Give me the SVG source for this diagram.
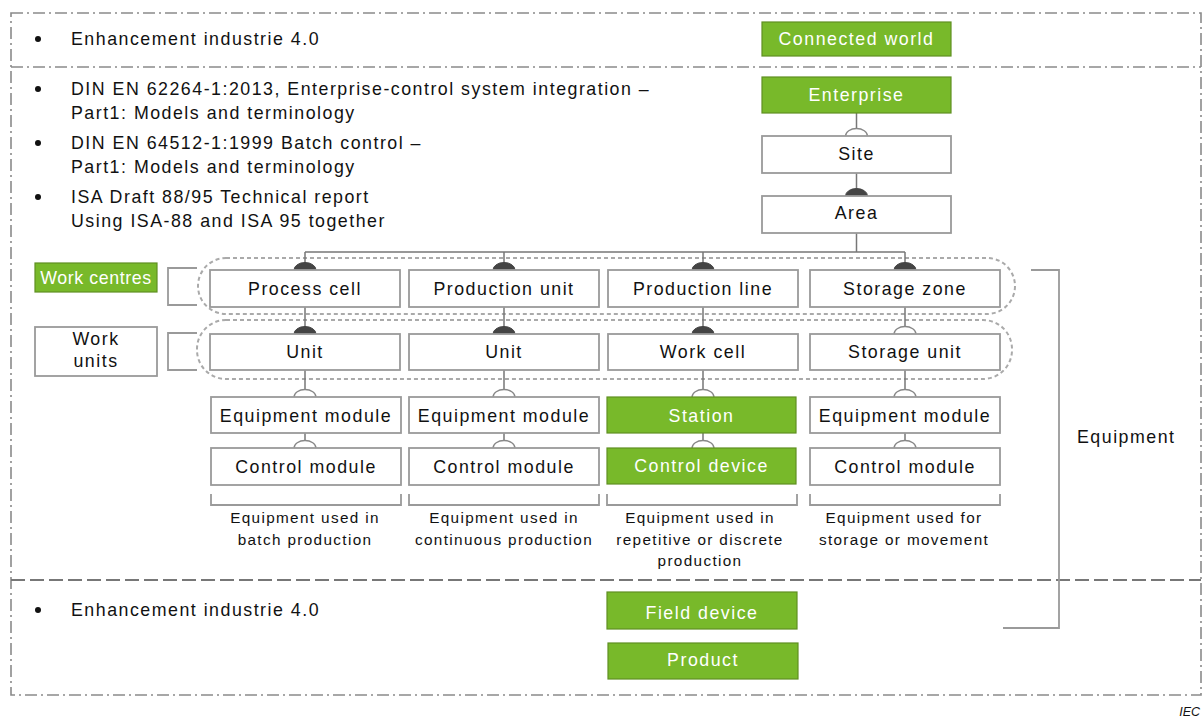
<svg xmlns="http://www.w3.org/2000/svg" width="1203" height="720" viewBox="0 0 1203 720">
<style>
text{font-family:"Liberation Sans",Arial,sans-serif;fill:#111}
.t{font-size:17.8px;letter-spacing:1.5px}
.c{text-anchor:middle}
.s{font-size:15.3px;letter-spacing:1.35px;text-anchor:middle}
.w{fill:#fff}
.bx{fill:#fff;stroke:#9a9a9a;stroke-width:1.8}
.gr{fill:#78b92a;stroke:#5f8f22;stroke-width:1.2}
.ln{fill:none;stroke:#777;stroke-width:1.5}
.br{fill:none;stroke:#9a9a9a;stroke-width:1.8}
.dd{fill:none;stroke:#8a8a8a;stroke-width:1.6;stroke-dasharray:12 4 2 4}
.da{fill:none;stroke:#777;stroke-width:1.8;stroke-dasharray:14 5}
.grp{fill:none;stroke:#aaa;stroke-width:2;stroke-dasharray:4 3}
.f{fill:#444;stroke:#444;stroke-width:1}
.o{fill:#fff;stroke:#888;stroke-width:1.3}
</style>
<defs>
<path id="hf" class="f" d="M-11 0 A11 7.5 0 0 1 11 0 Z"/>
<path id="ho" class="o" d="M-11 0 A11 7.5 0 0 1 11 0"/>
</defs>

<g id="frame">
<path class="dd" d="M11 13 H1201 V695 H11 Z"/>
<path class="dd" d="M11 67 H1201"/>
<path class="da" d="M11 580 H1201"/>
</g>

<g id="notes">
<circle cx="38" cy="39" r="3" fill="#111"/>
<text class="t" x="71" y="45">Enhancement industrie 4.0</text>
<circle cx="38" cy="89" r="3" fill="#111"/>
<text class="t" x="71" y="95">DIN EN 62264-1:2013, Enterprise-control system integration –</text>
<text class="t" x="71" y="119">Part1: Models and terminology</text>
<circle cx="38" cy="143" r="3" fill="#111"/>
<text class="t" x="71" y="149">DIN EN 64512-1:1999 Batch control –</text>
<text class="t" x="71" y="173">Part1: Models and terminology</text>
<circle cx="38" cy="197" r="3" fill="#111"/>
<text class="t" x="71" y="203">ISA Draft 88/95 Technical report</text>
<text class="t" x="71" y="227">Using ISA-88 and ISA 95 together</text>
<circle cx="38" cy="610" r="3" fill="#111"/>
<text class="t" x="71" y="616">Enhancement industrie 4.0</text>
</g>

<g id="groups">
<rect class="grp" x="198" y="258" width="817" height="56" rx="28"/>
<rect class="grp" x="197" y="320" width="815" height="59" rx="29"/>
</g>

<g id="connectors">
<path class="ln" d="M856.5 113 V136 M856.5 173 V196 M856.5 233 V252 M305 252 H905 M305 252 V270 M504 252 V270 M703 252 V270 M905 252 V270"/>
<path class="ln" d="M305 307 V334 M504 307 V334 M703 307 V334 M905 307 V334"/>
<path class="ln" d="M305 370 V397 M504 370 V397 M703 370 V397 M905 370 V397"/>
<path class="ln" d="M305 433 V448 M504 433 V448 M703 433 V448 M905 433 V448"/>
<use href="#ho" x="856.5" y="136"/>
<use href="#hf" x="856.5" y="196"/>
<use href="#hf" x="305" y="270"/>
<use href="#hf" x="504" y="270"/>
<use href="#hf" x="703" y="270"/>
<use href="#hf" x="905" y="270"/>
<use href="#hf" x="305" y="334"/>
<use href="#hf" x="504" y="334"/>
<use href="#hf" x="703" y="334"/>
<use href="#ho" x="905" y="334"/>
<use href="#ho" x="305" y="397"/>
<use href="#ho" x="504" y="397"/>
<use href="#ho" x="703" y="397"/>
<use href="#ho" x="905" y="397"/>
<use href="#ho" x="305" y="448"/>
<use href="#ho" x="504" y="448"/>
<use href="#ho" x="703" y="448"/>
<use href="#ho" x="905" y="448"/>
</g>

<g id="brackets">
<path class="br" d="M197 268 H168 V305 H197"/>
<path class="br" d="M197 333 H168 V370 H197"/>
<path class="br" d="M211 494 V505 H401 V494"/>
<path class="br" d="M409 494 V505 H599 V494"/>
<path class="br" d="M607 494 V505 H797 V494"/>
<path class="br" d="M810 494 V505 H1000 V494"/>
<path class="br" d="M1031 270 H1059 V628 H1003"/>
</g>

<g id="n-connected"><rect class="gr" x="762" y="22" width="189" height="34"/><text class="t c w" x="856.5" y="45">Connected world</text></g>
<g id="n-enterprise"><rect class="gr" x="762" y="77" width="189" height="36"/><text class="t c w" x="856.5" y="101">Enterprise</text></g>
<g id="n-site"><rect class="bx" x="762" y="136" width="189" height="37"/><text class="t c" x="856.5" y="160">Site</text></g>
<g id="n-area"><rect class="bx" x="762" y="196" width="189" height="37"/><text class="t c" x="856.5" y="219">Area</text></g>

<g id="n-workcentres"><rect class="gr" x="35" y="263" width="122" height="29"/><text class="t c w" x="96" y="284" style="letter-spacing:0.6px">Work centres</text></g>
<g id="n-workunits"><rect class="bx" x="35" y="327" width="122" height="49"/><text class="t c" x="96" y="345">Work</text><text class="t c" x="96" y="367">units</text></g>

<g id="n-processcell"><rect class="bx" x="210" y="270" width="190" height="37"/><text class="t c" x="305" y="295">Process cell</text></g>
<g id="n-productionunit"><rect class="bx" x="409" y="270" width="190" height="37"/><text class="t c" x="504" y="295">Production unit</text></g>
<g id="n-productionline"><rect class="bx" x="608" y="270" width="190" height="37"/><text class="t c" x="703" y="295">Production line</text></g>
<g id="n-storagezone"><rect class="bx" x="810" y="270" width="190" height="37"/><text class="t c" x="905" y="295">Storage zone</text></g>

<g id="n-unit1"><rect class="bx" x="210" y="334" width="190" height="36"/><text class="t c" x="305" y="358">Unit</text></g>
<g id="n-unit2"><rect class="bx" x="409" y="334" width="190" height="36"/><text class="t c" x="504" y="358">Unit</text></g>
<g id="n-workcell"><rect class="bx" x="608" y="334" width="190" height="36"/><text class="t c" x="703" y="358">Work cell</text></g>
<g id="n-storageunit"><rect class="bx" x="810" y="334" width="190" height="36"/><text class="t c" x="905" y="358">Storage unit</text></g>

<g id="n-em1"><rect class="bx" x="211" y="397" width="190" height="36"/><text class="t c" x="306" y="422">Equipment module</text></g>
<g id="n-em2"><rect class="bx" x="409" y="397" width="190" height="36"/><text class="t c" x="504" y="422">Equipment module</text></g>
<g id="n-station"><rect class="gr" x="607" y="397" width="189" height="36"/><text class="t c w" x="701.5" y="422">Station</text></g>
<g id="n-em4"><rect class="bx" x="810" y="397" width="190" height="36"/><text class="t c" x="905" y="422">Equipment module</text></g>

<g id="n-cm1"><rect class="bx" x="211" y="448" width="190" height="37"/><text class="t c" x="306" y="473">Control module</text></g>
<g id="n-cm2"><rect class="bx" x="409" y="448" width="190" height="37"/><text class="t c" x="504" y="473">Control module</text></g>
<g id="n-controldevice"><rect class="gr" x="607" y="448" width="189" height="36"/><text class="t c w" x="701.5" y="472">Control device</text></g>
<g id="n-cm4"><rect class="bx" x="810" y="448" width="190" height="37"/><text class="t c" x="905" y="473">Control module</text></g>

<g id="captions">
<text class="s" x="305" y="523">Equipment used in</text>
<text class="s" x="305" y="545">batch production</text>
<text class="s" x="504" y="523">Equipment used in</text>
<text class="s" x="504" y="545">continuous production</text>
<text class="s" x="700" y="523">Equipment used in</text>
<text class="s" x="700" y="545">repetitive or discrete</text>
<text class="s" x="700" y="566">production</text>
<text class="s" x="904" y="523">Equipment used for</text>
<text class="s" x="904" y="545">storage or movement</text>
<text class="t" x="1077" y="443">Equipment</text>
</g>

<g id="n-fielddevice"><rect class="gr" x="607" y="592" width="190" height="37"/><text class="t c w" x="702" y="619">Field device</text></g>
<g id="n-product"><rect class="gr" x="608" y="643" width="190" height="36"/><text class="t c w" x="703" y="666">Product</text></g>

<text x="1200" y="716" style="font-size:12.5px;font-style:italic;text-anchor:end">IEC</text>
</svg>
